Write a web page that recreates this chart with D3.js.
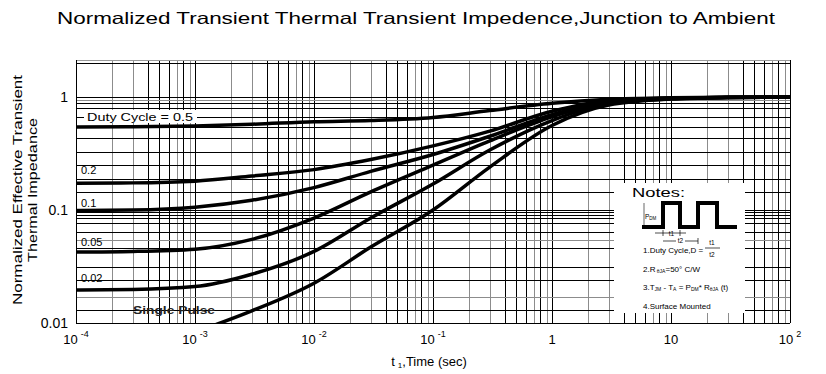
<!DOCTYPE html>
<html>
<head>
<meta charset="utf-8">
<script src="https://cdn.jsdelivr.net/npm/d3@7"></script>
<style>
    body { margin: 0; background: #fff; }
    svg { display: block; font-family: "Liberation Sans", Arial, sans-serif; }
</style>
</head>
<body>
<div id="graph"></div>
<script>
"use strict";

// pulse width t1 (sec) at which the curves were read
const times = [1e-4, 3e-4, 1e-3, 3e-3, 1e-2, 3e-2, 1e-1, 3e-1, 1, 3, 10, 30, 100];
const duty05 = [0.543, 0.546, 0.556, 0.575, 0.605, 0.62, 0.66, 0.76, 0.88, 0.955, 0.985, 0.995, 1.0];
const duty02 = [0.173, 0.174, 0.18, 0.2, 0.228, 0.28, 0.37, 0.5, 0.75, 0.93, 0.98, 0.995, 1.0];
const duty01 = [0.099, 0.1, 0.106, 0.122, 0.158, 0.22, 0.31, 0.45, 0.7, 0.91, 0.975, 0.993, 1.0];
const duty005 = [0.0425, 0.043, 0.045, 0.055, 0.085, 0.145, 0.25, 0.41, 0.67, 0.9, 0.97, 0.992, 1.0];
const duty002 = [0.0196, 0.0198, 0.021, 0.027, 0.043, 0.085, 0.17, 0.34, 0.62, 0.88, 0.965, 0.99, 1.0];
const single = [null, null, 0.0083, 0.0128, 0.0225, 0.047, 0.1, 0.24, 0.56, 0.85, 0.96, 0.99, 1.0];

const xTicks = [1e-4, 1e-3, 1e-2, 1e-1, 1, 10, 100];
const xTickBase = ["10", "10", "10", "10", "1", "10", "10"];
const xTickExp = ["-4", "-3", "-2", "-1", "", "", "2"];
const yTicks = [0.01, 0.1, 1];
const yTickLabels = ["0.01", "0.1", "1"];
// horizontal grid lines as they sit in the scanned sheet
const hGrid = [2, 1.0, 0.94, 0.885, 0.8, 0.66, 0.54, 0.43, 0.325, 0.25, 0.19, 0.144,
               0.1, 0.096, 0.09, 0.085, 0.077, 0.064, 0.054, 0.046, 0.031, 0.024, 0.017, 0.013];
const hGridGrey = [0.054, 0.017, 0.94];

const W = 826, H = 374;
const plot = { left: 76, right: 790, top: 60, bottom: 323 };

const svg = d3.select("#graph").append("svg")
    .attr("width", W)
    .attr("height", H);

const x = d3.scaleLog().domain([1e-4, 100]).range([plot.left, plot.right]);
const y = d3.scaleLog().domain([0.01, 2.13]).range([plot.bottom, plot.top]);

svg.append("clipPath").attr("id", "plotclip")
    .append("rect")
    .attr("x", plot.left).attr("y", plot.top)
    .attr("width", plot.right - plot.left).attr("height", plot.bottom - plot.top);

// title
svg.append("text")
    .attr("x", 57).attr("y", 24)
    .attr("font-size", 16.5)
    .attr("textLength", 718)
    .attr("lengthAdjust", "spacingAndGlyphs")
    .text("Normalized Transient Thermal Transient Impedence,Junction to Ambient");

/*** grid ***/
let vGrid = [];
for (let d = -4; d < 2; d++) {
    for (let k = 1; k < 10; k++) {
        vGrid.push({ v: k * Math.pow(10, d), k: k });
    }
}
const greyK = [2, 3, 7, 9];
const grid = svg.append("g").attr("shape-rendering", "crispEdges");
grid.selectAll(".vg").data(vGrid).join("line")
    .attr("class", "vg")
    .attr("x1", d => Math.round(x(d.v)) + 0.5).attr("x2", d => Math.round(x(d.v)) + 0.5)
    .attr("y1", plot.top).attr("y2", plot.bottom)
    .attr("stroke", d => greyK.includes(d.k) ? "#8c8c8c" : "#000")
    .attr("stroke-width", 1);
grid.selectAll(".hg").data(hGrid).join("line")
    .attr("class", "hg")
    .attr("x1", plot.left).attr("x2", plot.right)
    .attr("y1", d => Math.round(y(d)) + 0.5).attr("y2", d => Math.round(y(d)) + 0.5)
    .attr("stroke", d => hGridGrey.includes(d) ? "#8c8c8c" : "#000")
    .attr("stroke-width", 1);

// frame
grid.append("line").attr("x1", plot.left).attr("x2", plot.right)
    .attr("y1", plot.top + 0.5).attr("y2", plot.top + 0.5).attr("stroke", "#9a9a9a");
grid.append("line").attr("x1", plot.left).attr("x2", plot.right)
    .attr("y1", plot.bottom + 0.5).attr("y2", plot.bottom + 0.5).attr("stroke", "#000").attr("stroke-width", 1.5);
grid.append("line").attr("x1", plot.left + 0.5).attr("x2", plot.left + 0.5)
    .attr("y1", plot.top).attr("y2", plot.bottom).attr("stroke", "#000").attr("stroke-width", 1.5);
grid.append("line").attr("x1", plot.right + 0.5).attr("x2", plot.right + 0.5)
    .attr("y1", plot.top).attr("y2", plot.bottom).attr("stroke", "#000").attr("stroke-width", 1.5);

/*** axes labels ***/
const xl = svg.append("g").attr("font-size", 13);
xTicks.forEach((t, i) => {
    const txt = xl.append("text")
        .attr("x", x(t)).attr("y", 344)
        .attr("text-anchor", "middle");
    txt.append("tspan").text(xTickBase[i]);
    if (xTickExp[i] !== "") {
        txt.append("tspan").attr("font-size", 9).attr("dy", -7).attr("dx", 3).text(xTickExp[i]);
    }
});
svg.append("g").attr("font-size", 14)
    .selectAll("text").data(yTicks).join("text")
    .attr("x", 68).attr("y", d => y(d) + 5)
    .attr("text-anchor", "end")
    .text((d, i) => yTickLabels[i]);

const xt = svg.append("text").attr("x", 429).attr("y", 366)
    .attr("text-anchor", "middle").attr("font-size", 13);
xt.append("tspan").text("t");
xt.append("tspan").attr("font-size", 8).attr("dx", 3).attr("dy", 2).text("1");
xt.append("tspan").attr("dy", -2).text(",Time (sec)");

const yt = svg.append("g").attr("transform", "translate(0,190) rotate(-90)")
    .attr("font-size", 13).attr("text-anchor", "middle");
yt.append("text").attr("x", 0).attr("y", 22)
    .attr("textLength", 230).attr("lengthAdjust", "spacingAndGlyphs")
    .text("Normalized Effective Transient");
yt.append("text").attr("x", 0).attr("y", 37)
    .attr("textLength", 144).attr("lengthAdjust", "spacingAndGlyphs")
    .text("Thermal Impedance");

/*** notes box ***/
const notes = svg.append("g").attr("transform", "translate(614,183)");
notes.append("rect").attr("width", 131).attr("height", 130).attr("fill", "#fff");
notes.append("text").attr("x", 18).attr("y", 14).attr("font-size", 13)
    .attr("textLength", 53).attr("lengthAdjust", "spacingAndGlyphs").text("Notes:");
notes.append("path")
    .attr("d", "M28,44H49V20H66V44H84V20H103V44H123")
    .attr("fill", "none").attr("stroke", "#000").attr("stroke-width", 4);
notes.append("line").attr("x1", 30).attr("x2", 30).attr("y1", 20).attr("y2", 44)
    .attr("stroke", "#000").attr("stroke-width", 0.6);
const pdm = notes.append("text").attr("x", 31).attr("y", 36).attr("font-size", 6.5);
pdm.append("tspan").text("P");
pdm.append("tspan").attr("font-size", 4.5).attr("dy", 1).text("DM");
notes.append("path").attr("d", "M41,50H72M49,47V53M66,47V53M49,58H84M84,55V61")
    .attr("fill", "none").attr("stroke", "#000").attr("stroke-width", 0.7);
notes.append("text").attr("x", 57.5).attr("y", 53).attr("font-size", 6.5)
    .attr("text-anchor", "middle").text("t1");
notes.append("rect").attr("x", 62).attr("y", 54).attr("width", 9).attr("height", 7).attr("fill", "#fff");
notes.append("text").attr("x", 66.5).attr("y", 60).attr("font-size", 6.5)
    .attr("text-anchor", "middle").text("t2");

const nt = notes.append("g").attr("font-size", 8);
nt.append("text").attr("x", 29).attr("y", 70).text("1.Duty Cycle,D =");
nt.append("text").attr("x", 98).attr("y", 62).attr("font-size", 6.5).attr("text-anchor", "middle").text("t1");
nt.append("line").attr("x1", 91).attr("x2", 106).attr("y1", 65).attr("y2", 65).attr("stroke", "#000").attr("stroke-width", 0.7);
nt.append("text").attr("x", 98).attr("y", 74).attr("font-size", 6.5).attr("text-anchor", "middle").text("t2");
const n2 = nt.append("text").attr("x", 29).attr("y", 89);
n2.append("tspan").text("2.R");
n2.append("tspan").attr("font-size", 5).attr("dy", 1).text(" θJA");
n2.append("tspan").attr("dy", -1).text("=50°  C/W");
const n3 = nt.append("text").attr("x", 29).attr("y", 107);
n3.append("tspan").text("3.T");
n3.append("tspan").attr("font-size", 5).attr("dy", 1).text("JM");
n3.append("tspan").attr("dy", -1).text(" -  T");
n3.append("tspan").attr("font-size", 5).attr("dy", 1).text("A");
n3.append("tspan").attr("dy", -1).text("  = P");
n3.append("tspan").attr("font-size", 5).attr("dy", 1).text("DM");
n3.append("tspan").attr("dy", -1).text("* R");
n3.append("tspan").attr("font-size", 5).attr("dy", 1).text("θJA");
n3.append("tspan").attr("dy", -1).text(" (t)");
nt.append("text").attr("x", 29).attr("y", 126).text("4.Surface Mounted");

/*** curves ***/
const series = [duty05, duty02, duty01, duty005, duty002, single];
const line = d3.line()
    .defined(d => d[1] !== null)
    .x(d => x(d[0]))
    .y(d => y(d[1]))
    .curve(d3.curveMonotoneX);
svg.append("g").attr("clip-path", "url(#plotclip)")
    .selectAll("path").data(series).join("path")
    .attr("d", s => line(times.map((t, i) => [t, s[i]])))
    .attr("fill", "none")
    .attr("stroke", "#000")
    .attr("stroke-width", 3.5);

/*** curve labels ***/
svg.append("rect").attr("x", 84).attr("y", 110).attr("width", 113).attr("height", 13).attr("fill", "#fff");
svg.append("text").attr("x", 87).attr("y", 121).attr("font-size", 11.5)
    .attr("textLength", 106).attr("lengthAdjust", "spacingAndGlyphs").text("Duty Cycle = 0.5");
const labs = [["0.2", 174], ["0.1", 207], ["0.05", 246], ["0.02", 282]];
svg.append("g").attr("font-size", 11).selectAll("text").data(labs).join("text")
    .attr("x", 81).attr("y", d => d[1])
    .text(d => d[0]);
svg.append("text").attr("x", 133).attr("y", 314).attr("font-size", 10).attr("font-weight", "bold")
    .attr("fill", "#222")
    .attr("textLength", 82).attr("lengthAdjust", "spacingAndGlyphs").text("Single Pulse");
</script>
</body>
</html>
